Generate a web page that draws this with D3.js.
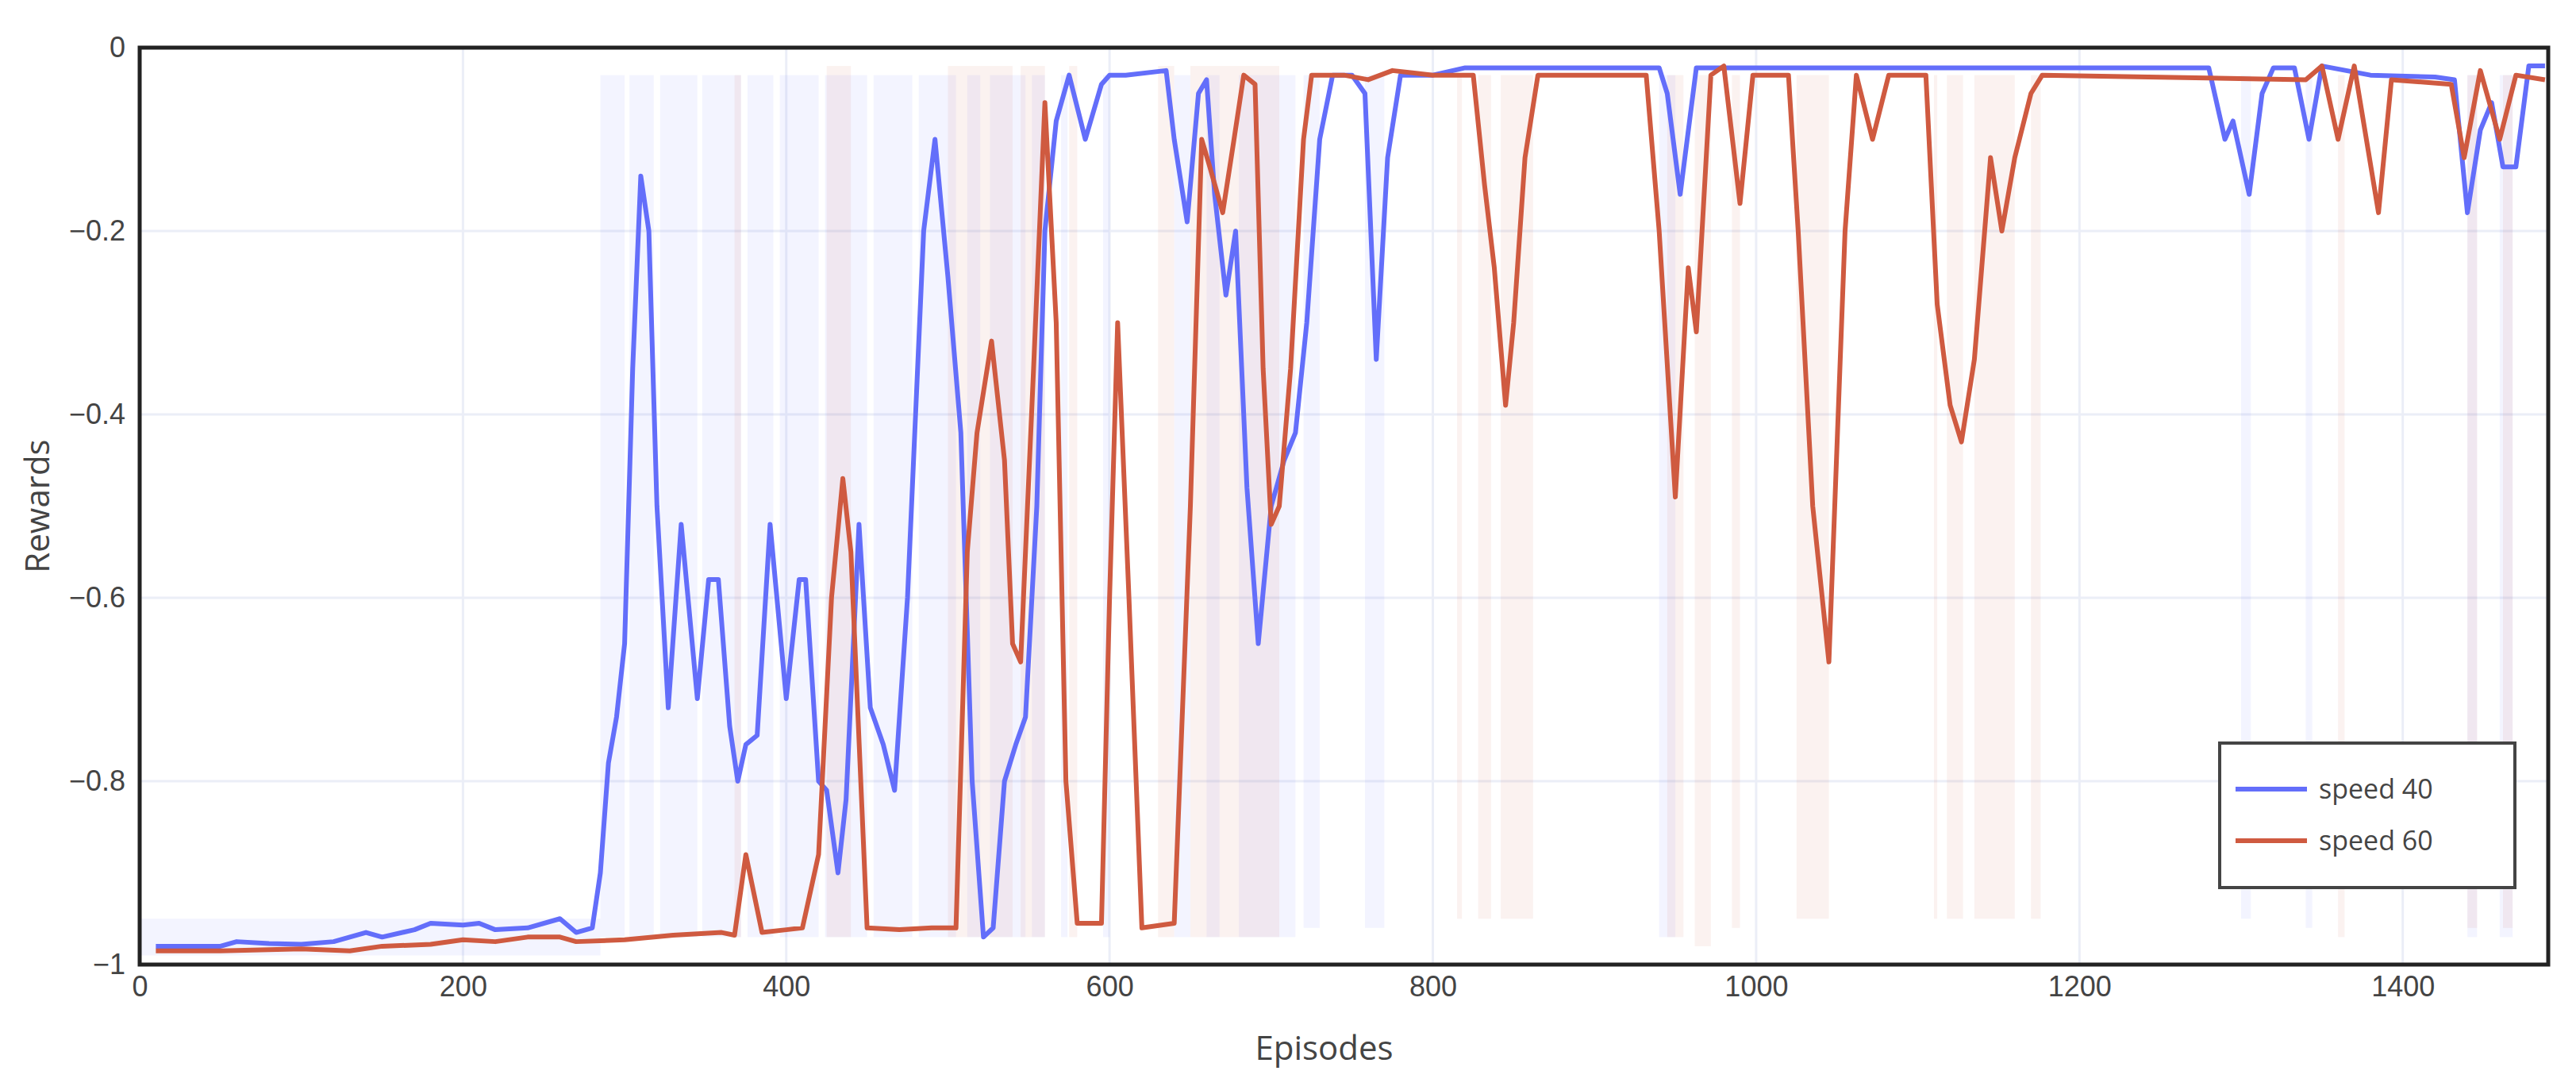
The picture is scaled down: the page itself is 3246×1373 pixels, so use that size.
<!DOCTYPE html>
<head>
<meta charset="utf-8">
<script src="https://d3js.org/d3.v7.min.js"></script>
<style>
body { margin: 0; background: white; font-family: 'Open Sans', sans-serif; }
.grid line { stroke: #ebeef7; stroke-width: 3; }
.tick text { fill: #444; font-size: 36px; }
</style>
</head>
<body>
<div id="plotContainer"></div>
<script>

var seriesNames = ["speed 40", "speed 60"]
var seriesColors = ["#636efa", "#cf5a40"]
var xTicks = [0, 200, 400, 600, 800, 1000, 1200, 1400]
var yTicks = [0, -0.2, -0.4, -0.6, -0.8, -1]

// smoothed rewards [episode, reward]
var speed40 = [[10,-0.98],[30,-0.98],[50,-0.98],[60,-0.975],[80,-0.977],[100,-0.978],[120,-0.975],[140,-0.965],[150,-0.97],[170,-0.962],[180,-0.955],[200,-0.957],[210,-0.955],[220,-0.962],[240,-0.96],[260,-0.95],[270,-0.965],[280,-0.96],[285,-0.9],[290,-0.78],[295,-0.73],[300,-0.65],[305,-0.35],[310,-0.14],[315,-0.2],[320,-0.5],[327,-0.72],[335,-0.52],[345,-0.71],[352,-0.58],[358,-0.58],[365,-0.74],[370,-0.8],[375,-0.76],[382,-0.75],[390,-0.52],[400,-0.71],[408,-0.58],[412,-0.58],[420,-0.8],[425,-0.81],[432,-0.9],[437,-0.82],[445,-0.52],[452,-0.72],[460,-0.76],[467,-0.81],[475,-0.6],[485,-0.2],[492,-0.1],[500,-0.25],[508,-0.42],[515,-0.8],[522,-0.97],[528,-0.96],[535,-0.8],[542,-0.76],[548,-0.73],[555,-0.5],[560,-0.2],[567,-0.08],[575,-0.03],[585,-0.1],[595,-0.04],[600,-0.03],[610,-0.03],[635,-0.025],[640,-0.1],[648,-0.19],[655,-0.05],[660,-0.035],[665,-0.16],[672,-0.27],[678,-0.2],[685,-0.48],[692,-0.65],[700,-0.5],[708,-0.45],[715,-0.42],[722,-0.3],[730,-0.1],[738,-0.03],[750,-0.03],[758,-0.05],[765,-0.34],[772,-0.12],[780,-0.03],[800,-0.03],[820,-0.022],[940,-0.022],[945,-0.05],[953,-0.16],[963,-0.022],[1280,-0.022],[1290,-0.1],[1295,-0.08],[1305,-0.16],[1313,-0.05],[1320,-0.022],[1333,-0.022],[1342,-0.1],[1350,-0.02],[1380,-0.03],[1420,-0.032],[1432,-0.035],[1440,-0.18],[1448,-0.09],[1455,-0.06],[1462,-0.13],[1470,-0.13],[1478,-0.02],[1488,-0.02]]
var speed60 = [[10,-0.985],[50,-0.985],[100,-0.983],[130,-0.985],[150,-0.98],[180,-0.978],[200,-0.973],[220,-0.975],[240,-0.97],[260,-0.97],[270,-0.975],[300,-0.973],[330,-0.968],[360,-0.965],[368,-0.968],[375,-0.88],[385,-0.965],[400,-0.962],[410,-0.96],[420,-0.88],[428,-0.6],[435,-0.47],[440,-0.55],[450,-0.96],[470,-0.962],[490,-0.96],[505,-0.96],[512,-0.55],[518,-0.42],[527,-0.32],[535,-0.45],[540,-0.65],[545,-0.67],[553,-0.35],[560,-0.06],[567,-0.3],[573,-0.8],[580,-0.955],[595,-0.955],[600,-0.6],[605,-0.3],[612,-0.6],[620,-0.96],[640,-0.955],[650,-0.5],[657,-0.1],[662,-0.13],[670,-0.18],[677,-0.1],[683,-0.03],[690,-0.04],[695,-0.35],[700,-0.52],[705,-0.5],[712,-0.35],[720,-0.1],[725,-0.03],[745,-0.03],[760,-0.035],[775,-0.025],[800,-0.03],[825,-0.03],[832,-0.15],[838,-0.24],[845,-0.39],[850,-0.3],[857,-0.12],[865,-0.03],[932,-0.03],[940,-0.2],[950,-0.49],[958,-0.24],[963,-0.31],[972,-0.03],[980,-0.02],[990,-0.17],[998,-0.03],[1020,-0.03],[1026,-0.2],[1035,-0.5],[1045,-0.67],[1055,-0.2],[1062,-0.03],[1072,-0.1],[1082,-0.03],[1105,-0.03],[1112,-0.28],[1120,-0.39],[1127,-0.43],[1135,-0.34],[1145,-0.12],[1152,-0.2],[1160,-0.12],[1170,-0.05],[1177,-0.03],[1340,-0.035],[1350,-0.02],[1360,-0.1],[1370,-0.02],[1385,-0.18],[1393,-0.035],[1430,-0.04],[1438,-0.12],[1448,-0.025],[1460,-0.1],[1470,-0.03],[1488,-0.035]]

// faint raw-episode bands [start, end, top, bottom]
var raw40 = [[0,285,-0.95,-0.99],[285,300,-0.03,-0.97],[303,318,-0.03,-0.97],[322,345,-0.03,-0.97],[348,372,-0.03,-0.97],[376,392,-0.03,-0.97],[396,420,-0.03,-0.97],[424,450,-0.03,-0.97],[454,478,-0.03,-0.97],[482,505,-0.03,-0.97],[512,520,-0.03,-0.97],[526,548,-0.03,-0.97],[552,560,-0.03,-0.97],[570,574,-0.03,-0.97],[596,600,-0.03,-0.97],[640,650,-0.03,-0.97],[660,668,-0.03,-0.97],[680,715,-0.03,-0.97],[720,730,-0.03,-0.96],[758,770,-0.03,-0.96],[940,950,-0.03,-0.97],[1300,1306,-0.03,-0.95],[1340,1344,-0.03,-0.96],[1440,1446,-0.03,-0.97],[1460,1468,-0.03,-0.97]]
var raw60 = [[368,372,-0.03,-0.97],[425,440,-0.02,-0.97],[500,540,-0.02,-0.97],[545,560,-0.02,-0.97],[575,580,-0.02,-0.97],[630,640,-0.02,-0.97],[650,705,-0.02,-0.97],[815,818,-0.03,-0.95],[828,836,-0.03,-0.95],[842,862,-0.03,-0.95],[945,955,-0.03,-0.97],[962,972,-0.03,-0.98],[985,990,-0.03,-0.96],[1025,1045,-0.03,-0.95],[1110,1112,-0.03,-0.95],[1118,1128,-0.03,-0.95],[1135,1160,-0.03,-0.95],[1170,1176,-0.03,-0.95],[1360,1364,-0.03,-0.97],[1440,1446,-0.03,-0.96],[1462,1468,-0.03,-0.96]]

var margin = {top: 60, right: 35, bottom: 158, left: 176}
var W = 3246, H = 1373
var width = W - margin.left - margin.right,
    height = H - margin.top - margin.bottom

var svg = d3.select("#plotContainer").append("svg")
    .attr("width", W).attr("height", H)

var x = d3.scaleLinear().domain([0, 1490]).range([0, width])
var y = d3.scaleLinear().domain([-1, 0]).range([height, 0])

var g = svg.append("g").attr("transform", "translate(" + margin.left + "," + margin.top + ")")

g.append("g").attr("class", "grid")
    .selectAll("line").data(xTicks.slice(1)).enter().append("line")
    .attr("x1", d => x(d)).attr("x2", d => x(d)).attr("y1", 0).attr("y2", height)
g.append("g").attr("class", "grid")
    .selectAll("line").data(yTicks.slice(1, -1)).enter().append("line")
    .attr("y1", d => y(d)).attr("y2", d => y(d)).attr("x1", 0).attr("x2", width)

var rawSets = [raw40, raw60]
rawSets.forEach(function(bands, i) {
  g.append("g").selectAll("rect").data(bands).enter().append("rect")
    .attr("x", d => x(d[0]))
    .attr("width", d => Math.max(4, x(d[1]) - x(d[0])))
    .attr("y", d => y(d[2]))
    .attr("height", d => y(d[3]) - y(d[2]))
    .attr("fill", seriesColors[i])
    .attr("opacity", 0.08)
})

var line = d3.line().x(d => x(d[0])).y(d => y(d[1]))
var sets = [speed40, speed60]
sets.forEach(function(s, i) {
  g.append("path").datum(s).attr("d", line)
    .attr("fill", "none").attr("stroke", seriesColors[i])
    .attr("stroke-width", 6).attr("stroke-linejoin", "round")
})

g.append("rect").attr("width", width).attr("height", height)
    .attr("fill", "none").attr("stroke", "#222").attr("stroke-width", 5)

var xAxis = g.append("g").attr("transform", "translate(0," + height + ")")
    .call(d3.axisBottom(x).tickValues(xTicks).tickSize(0).tickPadding(14).tickFormat(d3.format("d")))
var yAxis = g.append("g")
    .call(d3.axisLeft(y).tickValues(yTicks).tickSize(0).tickPadding(18)
      .tickFormat(d => d === 0 ? "0" : d === -1 ? "\u22121" : "\u2212" + Math.abs(d)))
xAxis.select(".domain").remove()
yAxis.select(".domain").remove()

svg.append("text")
    .attr("x", margin.left + width / 2 - 25).attr("y", 1335)
    .attr("text-anchor", "middle").attr("fill", "#444")
    .style("font-size", "42px").text("Episodes")
svg.append("text")
    .attr("transform", "translate(62," + (margin.top + height / 2) + ") rotate(-90)")
    .attr("text-anchor", "middle").attr("fill", "#444")
    .style("font-size", "42px").text("Rewards")

var lg = svg.append("g").attr("transform", "translate(2797,936)")
lg.append("rect").attr("width", 372).attr("height", 182)
    .attr("fill", "white").attr("stroke", "#444").attr("stroke-width", 4)
seriesNames.forEach(function(n, i) {
  var yy = 58 + i * 65
  lg.append("line").attr("x1", 20).attr("x2", 110).attr("y1", yy).attr("y2", yy)
    .attr("stroke", seriesColors[i]).attr("stroke-width", 6)
  lg.append("text").attr("x", 125).attr("y", yy + 12)
    .attr("fill", "#444").style("font-size", "34px").text(n)
})

</script>
</body>
